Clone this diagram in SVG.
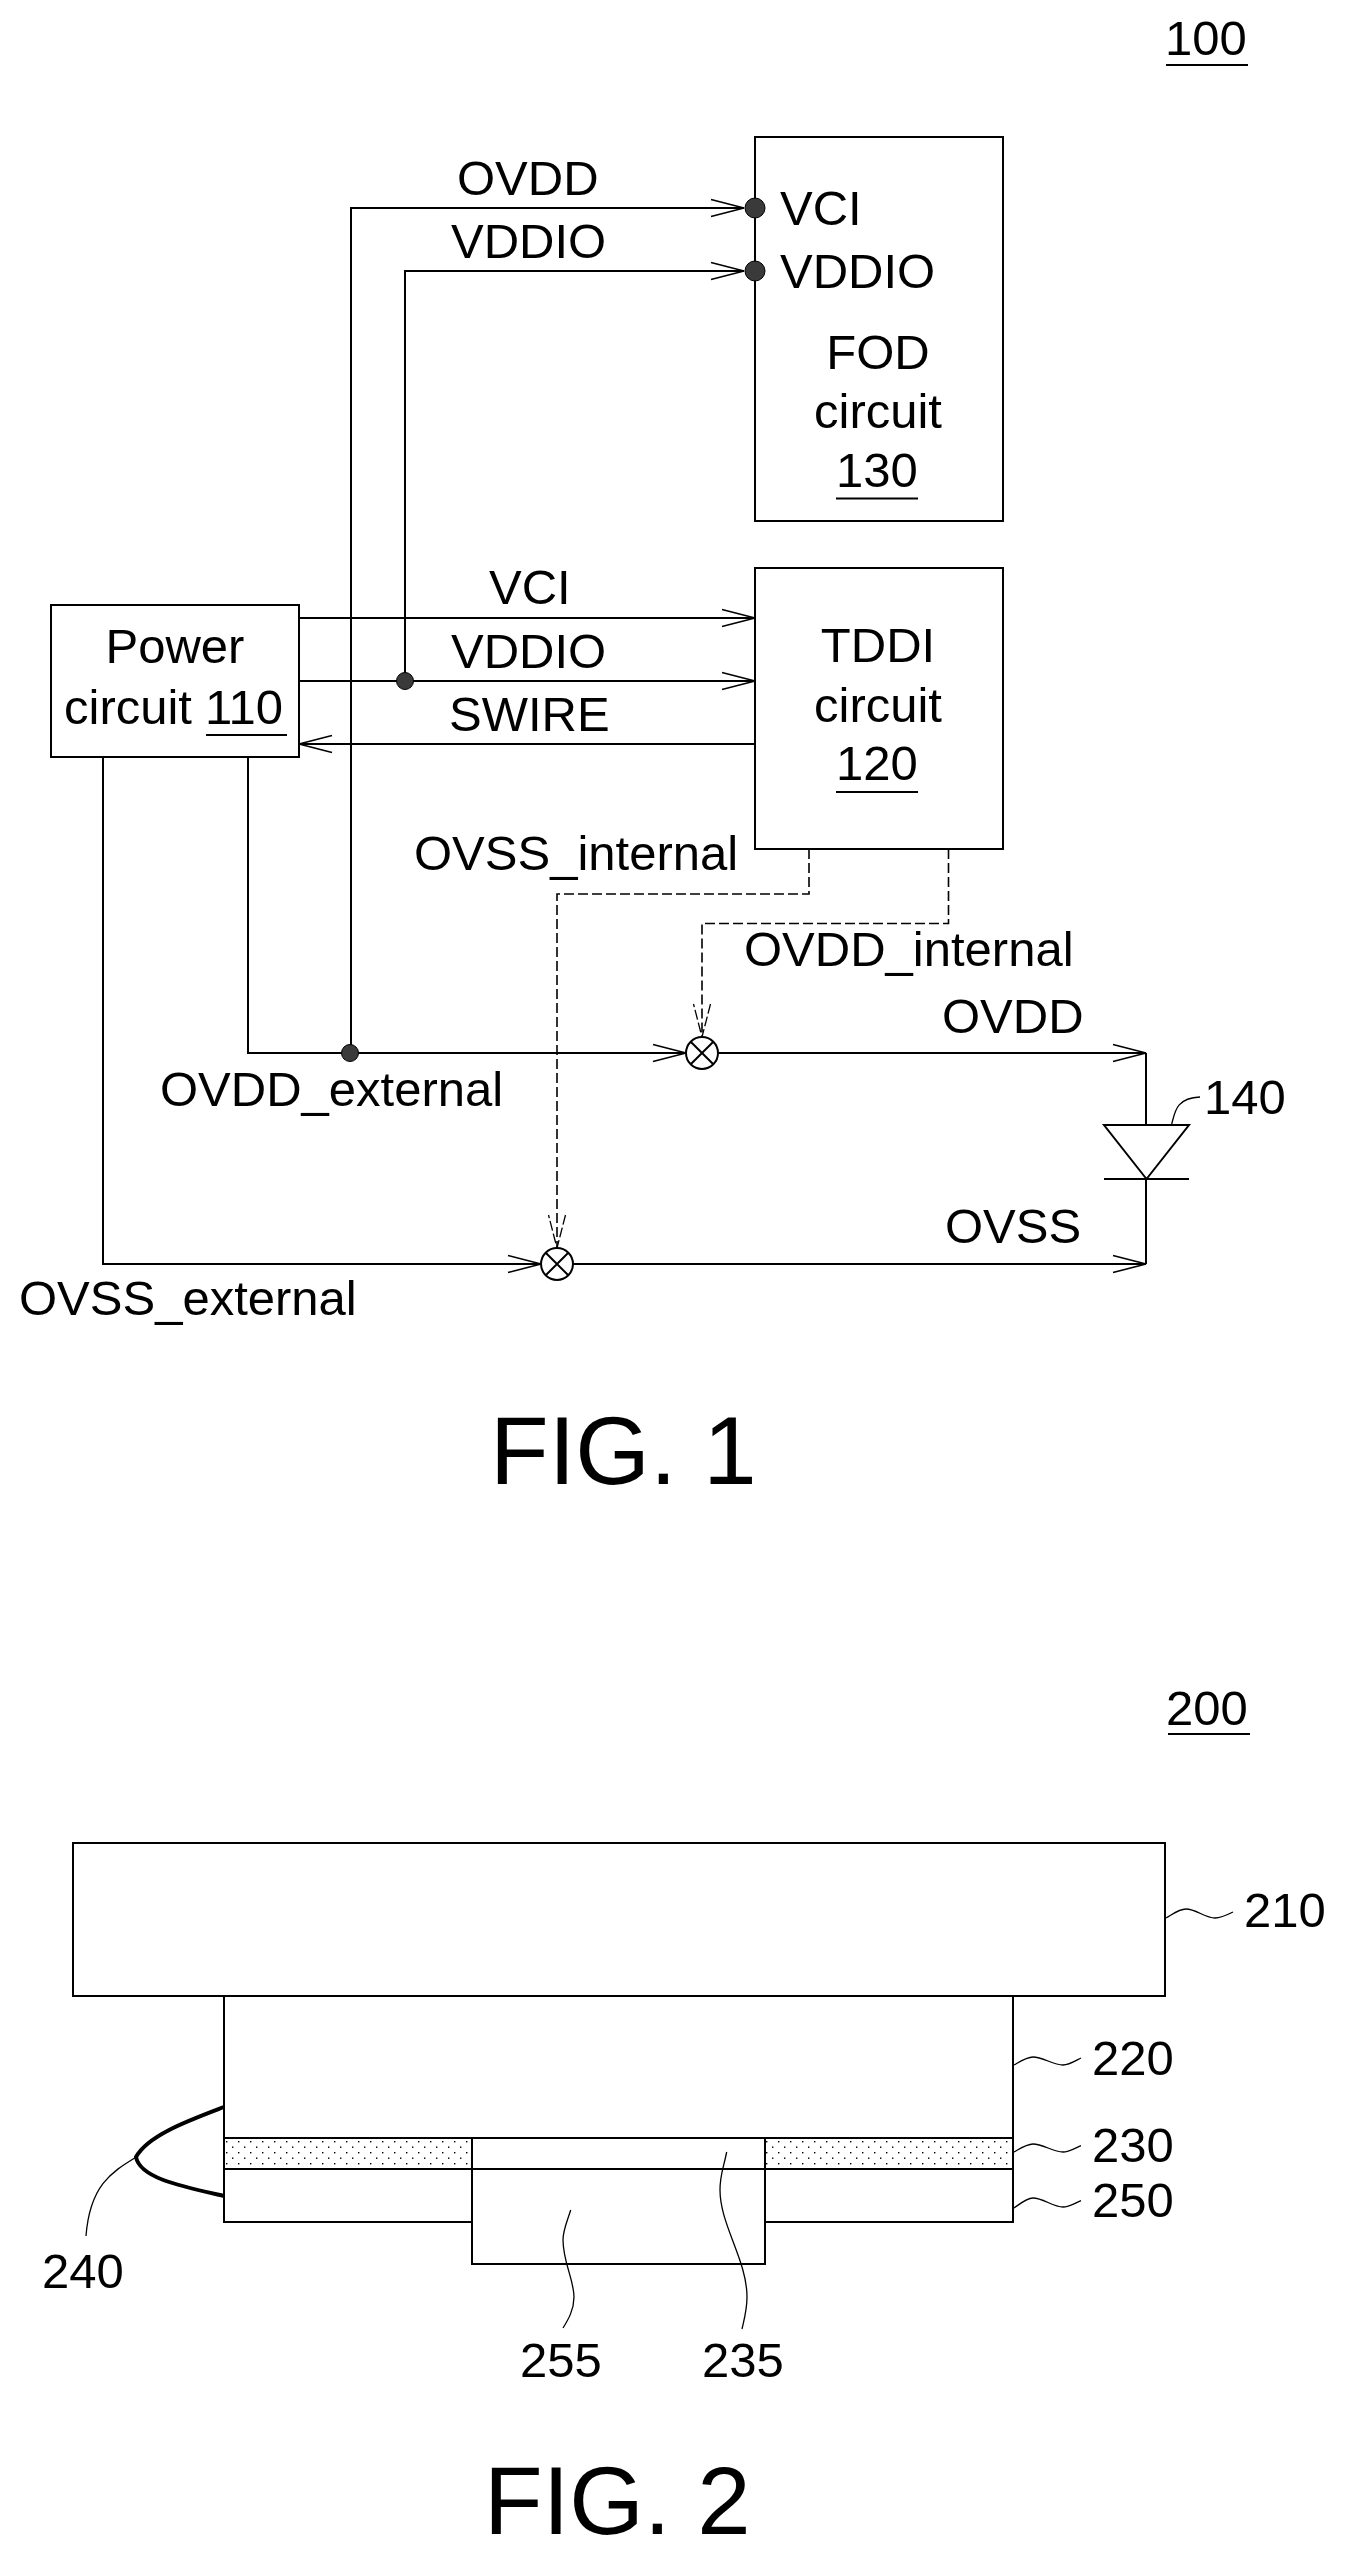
<svg xmlns="http://www.w3.org/2000/svg" width="1345" height="2556" viewBox="0 0 1345 2556">
<style>
text{font-family:"Liberation Sans",Arial,sans-serif;font-size:49px;fill:#000}
.fig{font-size:96px}
.c{text-anchor:middle}
.box{fill:#fff;stroke:#000;stroke-width:2}
.w{fill:none;stroke:#000;stroke-width:2}
.d{fill:none;stroke:#000;stroke-width:1.6;stroke-dasharray:10 4}
.t{fill:none;stroke:#000;stroke-width:1.3}
.u{stroke:#000;stroke-width:1.8}
.dot{fill:#3a3a3a;stroke:#000;stroke-width:1}
</style>
<defs>
<marker id="a" markerUnits="userSpaceOnUse" markerWidth="36" markerHeight="20" refX="33" refY="10" orient="auto" overflow="visible"><path d="M0 1.500L33 10L0 18.500" fill="none" stroke="#000" stroke-width="1.6"/></marker>
<marker id="ad" markerUnits="userSpaceOnUse" markerWidth="36" markerHeight="20" refX="33" refY="10" orient="auto" overflow="visible"><path d="M0 1.500L33 10L0 18.500" fill="none" stroke="#000" stroke-width="1.3" stroke-dasharray="10 3"/></marker>
<pattern id="dots" width="12" height="11" patternUnits="userSpaceOnUse" x="224" y="2138"><rect x="2" y="3" width="1.4" height="1.4"/><rect x="8" y="8.500" width="1.4" height="1.4"/></pattern>
</defs>

<g id="connectors">
<path class="w" d="M351 1053V208H744" marker-end="url(#a)"/>
<path class="w" d="M405 681V271H744" marker-end="url(#a)"/>
<path class="w" d="M299 618H755" marker-end="url(#a)"/>
<path class="w" d="M299 681H755" marker-end="url(#a)"/>
<path class="w" d="M755 744H299" marker-end="url(#a)"/>
<path class="w" d="M248 757V1053H686" marker-end="url(#a)"/>
<path class="w" d="M718.500 1053H1146" marker-end="url(#a)"/>
<path class="w" d="M103 757V1264H541" marker-end="url(#a)"/>
<path class="w" d="M573 1264H1146" marker-end="url(#a)"/>
<path class="w" d="M1146 1053V1125M1146 1179V1264"/>
<path class="d" d="M809 849V894H557V1248" marker-end="url(#ad)"/>
<path class="d" d="M948.500 849V923.500H702V1037" marker-end="url(#ad)"/>
</g>

<g id="node-100"><text x="1165" y="55">100</text><path class="u" d="M1166 65H1248"/></g>

<g id="node-fod">
<rect class="box" x="755" y="137" width="248" height="384"/>
<text x="780" y="225">VCI</text>
<text x="780" y="288">VDDIO</text>
<text class="c" x="878" y="369">FOD</text>
<text class="c" x="878" y="428">circuit</text>
<text class="c" x="877" y="487">130</text>
<path class="u" d="M836 498.500H918"/>
</g>
<g id="dot-fod-vci"><circle class="dot" cx="755" cy="208" r="10"/></g>
<g id="dot-fod-vddio"><circle class="dot" cx="755" cy="271" r="10"/></g>

<g id="node-tddi">
<rect class="box" x="755" y="568" width="248" height="281"/>
<text class="c" x="878" y="662">TDDI</text>
<text class="c" x="878" y="722">circuit</text>
<text class="c" x="877" y="780">120</text>
<path class="u" d="M836 792H918"/>
</g>

<g id="node-power">
<rect class="box" x="51" y="605" width="248" height="152"/>
<text class="c" x="175" y="663">Power</text>
<text x="64" y="724">circuit</text>
<text x="205" y="724">110</text>
<path class="u" d="M206 735H287"/>
</g>

<g id="dot-vddio"><circle class="dot" cx="405" cy="681" r="8.500"/></g>
<g id="dot-ovdd"><circle class="dot" cx="350" cy="1053" r="8.500"/></g>

<g id="mix-ovdd"><circle class="box" cx="702" cy="1053" r="16"/><path class="w" d="M690.700 1041.700L713.300 1064.300M713.300 1041.700L690.700 1064.300"/></g>
<g id="mix-ovss"><circle class="box" cx="557" cy="1264" r="16"/><path class="w" d="M545.700 1252.700L568.300 1275.300M568.300 1252.700L545.700 1275.300"/></g>

<g id="node-140">
<path class="w" d="M1104 1125H1189L1146.500 1179Z"/>
<path class="w" d="M1104 1179H1189"/>
<path class="t" d="M1171.700 1124C1175 1112 1176 1098 1200 1097"/>
<text x="1204" y="1114">140</text>
</g>

<g id="labels">
<text x="457" y="195">OVDD</text>
<text x="451" y="258">VDDIO</text>
<text x="489" y="604">VCI</text>
<text x="451" y="668">VDDIO</text>
<text x="449" y="731">SWIRE</text>
<text x="414" y="870">OVSS_internal</text>
<text x="744" y="966">OVDD_internal</text>
<text x="942" y="1033">OVDD</text>
<text x="160" y="1106">OVDD_external</text>
<text x="945" y="1243">OVSS</text>
<text x="19" y="1315">OVSS_external</text>
<text class="fig" x="490" y="1484">FIG. 1</text>
</g>

<g id="node-200"><text x="1166" y="1725">200</text><path class="u" d="M1168 1734H1250"/></g>
<g id="node-210"><rect class="box" x="73" y="1843" width="1092" height="153"/><path class="t" d="M1166 1918C1173 1914 1179 1909 1186 1909C1196 1909 1205 1918 1215 1918C1221 1918 1227 1915 1233 1912"/><text x="1244" y="1927">210</text></g>
<g id="node-220"><rect class="box" x="224" y="1996" width="789" height="142"/><path class="t" d="M1014 2065C1021 2061 1027 2057 1033 2057C1043 2057 1053 2065 1063 2065C1069 2065 1075 2061 1081 2058"/><text x="1092" y="2075">220</text></g>
<g id="node-230">
<rect x="224" y="2138" width="248" height="31" fill="url(#dots)" stroke="#000" stroke-width="2"/>
<rect x="765" y="2138" width="248" height="31" fill="url(#dots)" stroke="#000" stroke-width="2"/>
<path class="t" d="M1014 2152C1021 2148 1027 2144 1033 2144C1043 2144 1053 2152 1063 2152C1069 2152 1075 2148 1081 2145.700"/><text x="1092" y="2162">230</text>
</g>
<g id="node-250"><rect class="box" x="224" y="2169" width="789" height="53"/><path class="t" d="M1014 2208C1021 2203 1027 2198 1033 2198C1043 2198 1053 2207 1063 2207C1069 2207 1075 2203 1081 2200.700"/><text x="1092" y="2217">250</text></g>
<g id="node-235"><rect class="box" x="472" y="2138" width="293" height="31"/><text x="702" y="2377">235</text></g>
<g id="node-255"><rect class="box" x="472" y="2169" width="293" height="95"/><text x="520" y="2377">255</text></g>
<g id="leaders">
<path class="t" d="M726.700 2152C723 2170 720 2175 720 2190C720 2225 747 2260 747 2297C747 2310 744 2320 742 2329"/>
<path class="t" d="M570.700 2210C567 2222 563 2230 563 2240C563 2262 574 2280 574 2297C574 2310 568 2320 563 2328"/>
</g>
<g id="node-240">
<path d="M224 2107C190 2120 148 2135 136 2157C140 2178 180 2186 224 2196" fill="none" stroke="#000" stroke-width="4"/>
<path class="t" d="M135.500 2157.500C112 2172 90 2185 86 2236"/>
<text x="42" y="2288">240</text>
</g>
<g id="fig-2"><text class="fig" x="484" y="2534">FIG. 2</text></g>
</svg>
